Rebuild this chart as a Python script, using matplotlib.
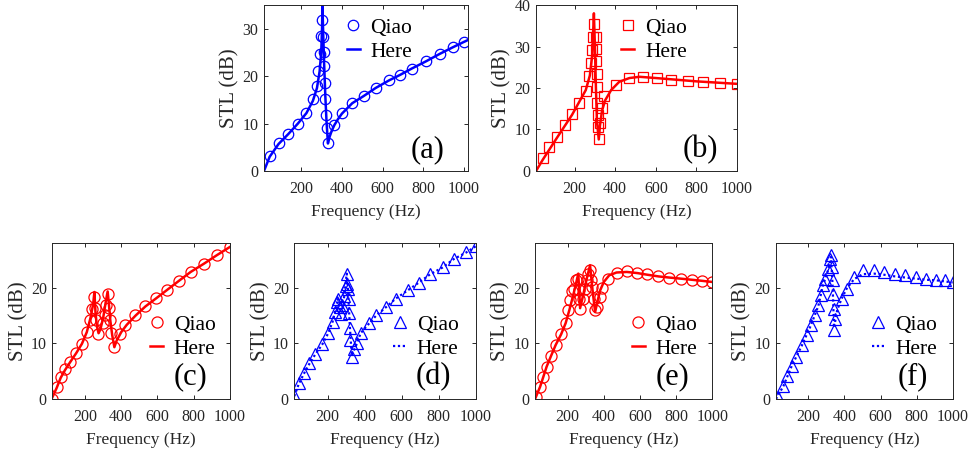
import numpy as np
import matplotlib.pyplot as plt

plt.rcParams['font.family'] = ['Liberation Serif', 'DejaVu Serif']

# ---- panel (a): blue circles + solid line
freq_a_qiao = [44, 88, 136, 183, 225, 257, 277, 282, 290, 299, 302, 307, 310, 312, 315,
               317, 320, 324, 331, 363, 400, 451, 507, 566, 632, 688, 744, 813, 882, 947, 1000]
stl_a_qiao = [3.2, 5.9, 7.8, 10.0, 12.2, 15.2, 17.9, 21.0, 24.6, 28.5, 31.8, 28.3, 25.1, 22.1, 18.6,
              15.2, 11.9, 9.0, 5.9, 9.6, 12.2, 14.3, 15.8, 17.5, 19.1, 20.3, 21.6, 23.1, 24.7, 26.1, 27.2]
freq_a_here = [16, 44, 88, 136, 183, 225, 257, 277, 290, 298, 302, 304, 307, 312, 318, 324, 331,
               340, 350, 363, 380, 400, 451, 507, 566, 632, 688, 744, 813, 882, 947, 1000, 1020]
stl_a_here = [0, 3.0, 5.7, 7.8, 10.0, 12.2, 14.8, 17.5, 21.0, 25.0, 30.0, 35.0, 30.0, 23.0, 16.0, 10.5, 5.8,
              7.3, 8.5, 9.7, 10.9, 12.1, 14.3, 15.8, 17.5, 19.1, 20.3, 21.6, 23.1, 24.7, 26.1, 27.2, 27.6]

# ---- panel (b): red squares + solid line
freq_b_qiao = [43, 76, 113, 151, 187, 222, 255, 271, 282, 287, 293, 297, 303, 306, 307, 308, 310,
               312, 313, 315, 320, 327, 333, 343, 406, 467, 538, 607, 675, 756, 832, 914, 1000]
stl_b_qiao = [3.2, 5.7, 8.3, 11.1, 13.7, 16.4, 19.2, 22.8, 26.1, 29.2, 32.2, 35.4, 32.3, 29.3, 26.5, 23.3, 20.3,
              16.5, 13.6, 10.7, 7.7, 11.5, 15.2, 18.0, 20.8, 22.5, 22.6, 22.3, 22.0, 21.7, 21.4, 21.2, 21.0]
freq_b_here = [10, 43, 113, 187, 255, 275, 287, 295, 300, 305, 310, 319, 325, 335, 350, 380, 420,
               470, 520, 600, 700, 800, 900, 1000]
stl_b_here = [0, 2.7, 8.0, 13.5, 19.5, 23.0, 28.0, 38.0, 30.0, 20.0, 12.0, 7.6, 11.0, 14.5, 17.0, 19.5, 21.5,
              22.4, 22.7, 22.4, 22.0, 21.6, 21.3, 21.0]

# ---- panel (c): red circles + solid line
freq_c_qiao = [20, 44, 66, 90, 118, 151, 183, 210, 225, 238, 247, 253, 262, 272, 300, 310, 318, 325,
               330, 338, 345, 362, 392, 423, 478, 533, 594, 654, 718, 783, 857, 927, 1000]
stl_c_qiao = [0.0, 2.2, 4.0, 5.3, 6.7, 8.2, 9.9, 12.1, 14.1, 16.1, 18.3, 16.3, 14.2, 11.7, 13.6, 15.0, 16.9, 18.8,
              16.4, 14.2, 11.8, 9.4, 11.6, 13.3, 15.1, 16.7, 18.1, 19.6, 21.2, 22.8, 24.3, 25.8, 27.3]
freq_c_here = [20, 44, 66, 90, 118, 151, 183, 210, 230, 245, 252, 258, 266, 275, 285, 300, 315, 325,
               332, 340, 350, 362, 375, 400, 430, 480, 533, 594, 654, 718, 783, 857, 927, 1000]
stl_c_here = [0.3, 2.0, 3.8, 5.2, 6.6, 8.2, 9.9, 12.0, 14.5, 17.0, 19.2, 15.5, 13.0, 11.8, 12.5, 14.5, 17.5, 19.3,
              17.0, 14.0, 11.5, 9.3, 10.5, 12.0, 13.3, 15.0, 16.6, 18.1, 19.6, 21.2, 22.8, 24.3, 25.8, 27.3]

# ---- panel (d): blue triangles + dotted line
freq_d_qiao = [20, 44, 71, 101, 133, 171, 203, 227, 240, 249, 256, 265, 272, 280, 290, 297, 303, 307,
               310, 313, 316, 320, 323, 330, 345, 359, 378, 425, 463, 516, 567, 633, 693, 755, 821, 881, 949, 1000]
stl_d_qiao = [0.7, 2.9, 4.7, 6.4, 8.1, 9.8, 11.8, 13.9, 15.6, 17.4, 18.0, 16.5, 15.2, 16.8, 18.5, 20.3, 22.5, 20.6,
              19.8, 18.0, 15.4, 12.8, 10.6, 7.6, 9.0, 10.0, 11.8, 13.6, 15.0, 16.5, 18.0, 19.5, 20.9, 22.4, 23.6,
              25.1, 26.3, 27.4]
freq_d_here = [20, 44, 71, 101, 133, 171, 203, 227, 245, 256, 265, 275, 290, 303, 310, 320, 330, 345,
               359, 378, 425, 463, 516, 567, 633, 693, 755, 821, 881, 949, 1000]
stl_d_here = [0.5, 2.7, 4.5, 6.3, 8.0, 9.8, 11.8, 13.9, 16.5, 18.0, 16.0, 15.5, 18.5, 22.5, 19.5, 13.0, 7.8, 9.0,
              10.0, 11.8, 13.6, 15.0, 16.5, 18.0, 19.5, 20.9, 22.4, 23.6, 25.1, 26.3, 27.4]

# ---- panel (e): red circles + solid line
freq_e_qiao = [24, 48, 66, 84, 108, 134, 164, 189, 204, 215, 226, 237, 245, 259, 262, 265, 269, 285,
               295, 305, 315, 324, 330, 337, 345, 352, 365, 379, 392, 421, 471, 527, 585, 641, 702, 760,
               825, 886, 945, 1000]
stl_e_qiao = [0.4, 2.2, 4.0, 5.8, 7.7, 9.7, 11.6, 13.6, 15.9, 17.7, 19.4, 19.8, 21.4, 21.6, 19.5, 18.0, 16.1, 18.0,
              19.8, 21.4, 22.5, 23.2, 21.4, 20.1, 18.0, 15.9, 16.5, 18.3, 19.9, 21.5, 22.7, 22.9, 22.7, 22.4,
              22.0, 21.8, 21.6, 21.4, 21.2, 21.0]
freq_e_here = [20, 48, 66, 84, 108, 134, 164, 189, 210, 230, 245, 259, 269, 285, 305, 324, 338, 352,
               365, 380, 400, 430, 470, 527, 585, 641, 702, 760, 825, 886, 945, 1000]
stl_e_here = [0.0, 2.2, 4.0, 5.8, 7.7, 9.7, 11.6, 13.6, 16.0, 18.5, 20.5, 22.5, 16.3, 18.5, 21.5, 24.0, 19.5, 15.6,
              17.5, 19.5, 21.0, 22.2, 22.7, 22.8, 22.6, 22.3, 22.0, 21.8, 21.6, 21.4, 21.2, 21.0]

# ---- panel (f): blue triangles + dotted line
freq_f_qiao = [33, 61, 83, 107, 131, 162, 190, 212, 236, 255, 268, 279, 292, 310, 320, 325, 329, 334,
               338, 342, 347, 343, 384, 412, 453, 501, 564, 619, 680, 736, 797, 852, 908, 958, 1000]
stl_f_qiao = [0.4, 2.4, 4.2, 6.0, 7.6, 9.6, 11.4, 13.2, 15.0, 16.8, 18.6, 20.4, 21.6, 23.4, 25.2, 25.8, 23.7, 21.3,
              18.9, 16.2, 14.4, 12.4, 18.0, 19.8, 21.9, 23.2, 23.2, 22.8, 22.5, 22.2, 21.9, 21.6, 21.4, 21.3, 21.0]
freq_f_here = [20, 61, 107, 162, 212, 255, 279, 292, 310, 325, 334, 342, 360, 384, 412, 453, 501, 564,
               619, 680, 736, 797, 852, 908, 958, 1000]
stl_f_here = [0.0, 2.3, 5.9, 9.5, 13.1, 16.7, 20.2, 21.5, 23.2, 25.5, 20.5, 12.8, 16.0, 18.0, 19.8, 21.5, 22.4, 22.5,
              22.3, 22.0, 21.8, 21.6, 21.4, 21.3, 21.1, 20.9]

xticks = [200, 400, 600, 800, 1000]
text_col = '#262626'

fig = plt.figure(figsize=(9.73, 4.55), dpi=100)

panels = [
    # rect, qiao x/y, here x/y, color, marker, ms, linestyle, xlim, ylim, yticks, legend anchor, label, label pos
    ([0.2713, 0.6242, 0.2097, 0.3648], freq_a_qiao, stl_a_qiao, freq_a_here, stl_a_here,
     'b', 'o', 7.5, '-', (16, 1021), (0, 35), [0, 10, 20, 30], (0.405, 0.925), '(a)', (0.804, 0.127)),
    ([0.5509, 0.6242, 0.2066, 0.3648], freq_b_qiao, stl_b_qiao, freq_b_here, stl_b_here,
     'r', 's', 7.0, '-', (10, 1000), (0, 40), [0, 10, 20, 30, 40], (0.425, 0.925), '(b)', (0.816, 0.127)),
    ([0.0538, 0.1231, 0.1826, 0.3429], freq_c_qiao, stl_c_qiao, freq_c_here, stl_c_here,
     'r', 'o', 8.0, '-', (20, 1000), (0, 28), [0, 10, 20], (0.55, 0.541), '(c)', (0.775, 0.141)),
    ([0.3025, 0.1231, 0.1864, 0.3429], freq_d_qiao, stl_d_qiao, freq_d_here, stl_d_here,
     'b', '^', 8.0, ':', (20, 1000), (0, 28), [0, 10, 20], (0.545, 0.541), '(d)', (0.765, 0.141)),
    ([0.5499, 0.1231, 0.1822, 0.3429], freq_e_qiao, stl_e_qiao, freq_e_here, stl_e_here,
     'r', 'o', 8.0, '-', (20, 1000), (0, 28), [0, 10, 20], (0.545, 0.541), '(e)', (0.778, 0.141)),
    ([0.7975, 0.1231, 0.1816, 0.3429], freq_f_qiao, stl_f_qiao, freq_f_here, stl_f_here,
     'b', '^', 8.0, ':', (20, 1000), (0, 28), [0, 10, 20], (0.543, 0.541), '(f)', (0.775, 0.141)),
]

for (rect, fq, sq, fh, sh, col, mk, ms, ls, xlim, ylim, yt, leg_xy, lab, lab_xy) in panels:
    ax = fig.add_axes(rect)
    ax.plot(fq, sq, linestyle='none', marker=mk, ms=ms, mfc='none', mec=col, mew=0.9, label='Qiao')
    if ls == '-':
        ax.plot(fh, sh, color=col, linestyle='-', lw=1.8, label='Here')
    else:
        ax.plot(fh, sh, color=col, linestyle=(0, (1, 1.2)), lw=1.6, label='Here')
    ax.set_xlim(*xlim)
    ax.set_ylim(*ylim)
    ax.set_xticks(xticks)
    ax.set_yticks(yt)
    ax.tick_params(direction='in', length=3, width=0.7, top=True, right=True,
                   labelsize=11.5, colors=text_col)
    ax.tick_params(axis='x', pad=7)
    ax.tick_params(axis='y', pad=4)
    for sp in ax.spines.values():
        sp.set_linewidth(0.7)
        sp.set_color(text_col)
    ax.set_xlabel('Frequency (Hz)', fontsize=12.5, color=text_col, labelpad=5)
    ax.set_ylabel('STL (dB)', fontsize=15, color=text_col, labelpad=2)
    ax.legend(loc='upper left', bbox_to_anchor=leg_xy, frameon=False, fontsize=15.5,
              handlelength=0.6, handletextpad=0.5, borderpad=0, borderaxespad=0,
              labelspacing=0.2)
    ax.text(lab_xy[0], lab_xy[1], lab, transform=ax.transAxes, ha='center', va='center',
            fontsize=22, color='black')

fig.savefig('out.png', dpi=100)
